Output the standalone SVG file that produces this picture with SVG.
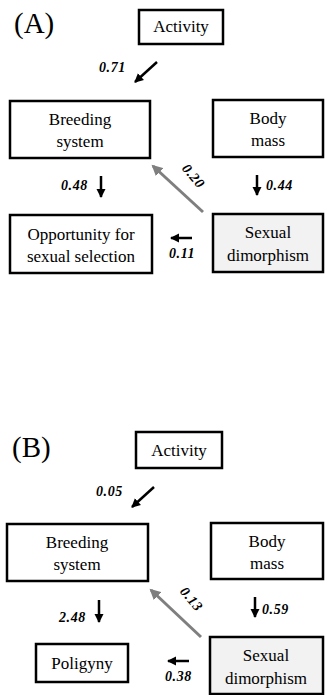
<svg xmlns="http://www.w3.org/2000/svg" width="325" height="695" viewBox="0 0 325 695">
<style>
.box{fill:#fff;stroke:#000;stroke-width:2.5}
.shaded{fill:#f2f2f2;stroke:#000;stroke-width:2.5}
.t{font-family:"Liberation Serif","Times New Roman",serif;font-size:17px;fill:#000;text-anchor:middle}
.panel{font-family:"Liberation Serif","Times New Roman",serif;font-size:29px;fill:#000}
.lab{font-family:"Liberation Serif","Times New Roman",serif;font-size:14px;font-weight:bold;font-style:italic;letter-spacing:0.6px;fill:#000}
.blk{stroke:#000;stroke-width:2.5;fill:none;marker-end:url(#ah)}
.gry{stroke:#7f7f7f;stroke-width:3;fill:none;marker-end:url(#ag)}
</style>
<defs>
<marker id="ah" markerUnits="userSpaceOnUse" markerWidth="10" markerHeight="10" refX="8" refY="5" orient="auto"><path d="M0,0.5 L9,5 L0,9.5 Z" fill="#000"/></marker>
<marker id="ag" markerUnits="userSpaceOnUse" markerWidth="12" markerHeight="12" refX="9" refY="6" orient="auto"><path d="M0,0.5 L11,6 L0,11.5 Z" fill="#7f7f7f"/></marker>
</defs>
<text class="panel" x="14" y="33">(A)</text>
<text class="panel" x="12" y="457">(B)</text>
<g id="A-activity"><rect class="box" x="139" y="10" width="84" height="34"/><text class="t" x="181" y="32">Activity</text></g>
<g id="A-breeding"><rect class="box" x="10" y="101" width="140" height="57"/><text class="t" x="80" y="125">Breeding</text><text class="t" x="80" y="147">system</text></g>
<g id="A-body"><rect class="box" x="213" y="100" width="110" height="57"/><text class="t" x="268" y="124">Body</text><text class="t" x="268" y="146">mass</text></g>
<g id="A-opportunity"><rect class="box" x="10" y="215" width="142" height="58"/><text class="t" x="81" y="240">Opportunity for</text><text class="t" x="81" y="262">sexual selection</text></g>
<g id="A-dimorphism"><rect class="shaded" x="213" y="214" width="110" height="58"/><text class="t" x="268" y="238">Sexual</text><text class="t" x="268" y="261">dimorphism</text></g>
<g id="B-activity"><rect class="box" x="136" y="432" width="86" height="36"/><text class="t" x="179" y="456">Activity</text></g>
<g id="B-breeding"><rect class="box" x="7" y="524" width="141" height="57"/><text class="t" x="77" y="548">Breeding</text><text class="t" x="77" y="570">system</text></g>
<g id="B-body"><rect class="box" x="211" y="523" width="112" height="56"/><text class="t" x="267" y="547">Body</text><text class="t" x="267" y="569">mass</text></g>
<g id="B-poligyny"><rect class="box" x="36" y="644" width="92" height="38"/><text class="t" x="82" y="669">Poligyny</text></g>
<g id="B-dimorphism"><rect class="shaded" x="210" y="637" width="113" height="57"/><text class="t" x="266" y="661">Sexual</text><text class="t" x="266" y="684">dimorphism</text></g>
<g id="connectors">
<line class="blk" x1="157" y1="62" x2="135" y2="82"/>
<line class="blk" x1="101" y1="176" x2="101" y2="197"/>
<line class="blk" x1="257" y1="175" x2="257" y2="195"/>
<line class="blk" x1="192" y1="238" x2="171" y2="238"/>
<line class="gry" x1="203" y1="212" x2="153" y2="166"/>
<line class="blk" x1="154" y1="487" x2="132" y2="507"/>
<line class="blk" x1="99" y1="600" x2="99" y2="622"/>
<line class="blk" x1="255" y1="597" x2="255" y2="617"/>
<line class="blk" x1="189" y1="661" x2="168" y2="661"/>
<line class="gry" x1="201" y1="637" x2="151" y2="590"/>
<text class="lab" x="99" y="72">0.71</text>
<text class="lab" x="61" y="190">0.48</text>
<text class="lab" x="266" y="190">0.44</text>
<text class="lab" x="169" y="258">0.11</text>
<text class="lab" x="0" y="0" text-anchor="middle" transform="translate(190,179) rotate(50)">0.20</text>
<text class="lab" x="96" y="496">0.05</text>
<text class="lab" x="59" y="622">2.48</text>
<text class="lab" x="262" y="614">0.59</text>
<text class="lab" x="165" y="681">0.38</text>
<text class="lab" x="0" y="0" text-anchor="middle" transform="translate(188,602) rotate(50)">0.13</text>
</g>
</svg>
